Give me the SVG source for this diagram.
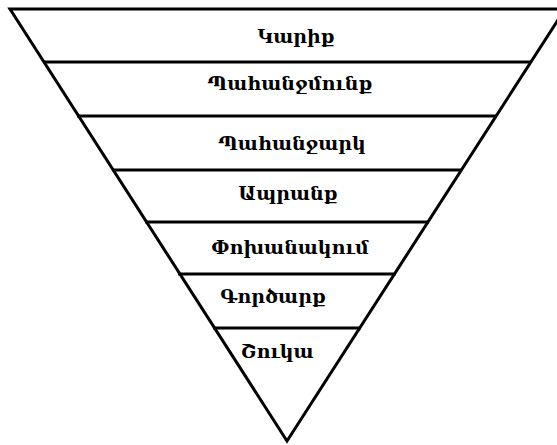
<svg xmlns="http://www.w3.org/2000/svg" width="557" height="445" viewBox="0 0 557 445">
  <style>
    .edge { fill: none; stroke: #000; stroke-width: 3; stroke-linejoin: miter; stroke-miterlimit: 10; }
    .sep { stroke: #000; stroke-width: 3; }
    .lbl { font-family: "DejaVu Serif", "DejaVu Sans", serif; font-size: 19px; font-weight: bold; fill: #000; text-anchor: middle; }
  </style>
  <rect width="557" height="445" fill="#fff"/>
  <g id="funnel">
    <polygon class="edge" points="10,9 565,9 287,441"/>
  </g>
  <g id="connectors">
    <line class="sep" x1="43" y1="62" x2="531" y2="62"/>
    <line class="sep" x1="77" y1="116" x2="497" y2="116"/>
    <line class="sep" x1="112" y1="170" x2="462" y2="170"/>
    <line class="sep" x1="145" y1="222" x2="429" y2="222"/>
    <line class="sep" x1="178" y1="274" x2="396" y2="274"/>
    <line class="sep" x1="213" y1="328" x2="361" y2="328"/>
  </g>
  <g id="layer-karik"><text class="lbl" x="296" y="43">Կարիք</text></g>
  <g id="layer-pahanjmunk"><text class="lbl" x="290" y="90">Պահանջմունք</text></g>
  <g id="layer-pahanjark"><text class="lbl" x="292" y="150">Պահանջարկ</text></g>
  <g id="layer-aprank"><text class="lbl" x="288" y="200">Ապրանք</text></g>
  <g id="layer-pokhanakum"><text class="lbl" x="290" y="254">Փոխանակում</text></g>
  <g id="layer-gortsark"><text class="lbl" x="273" y="303">Գործարք</text></g>
  <g id="layer-shuka"><text class="lbl" x="277" y="358">Շուկա</text></g>
</svg>
